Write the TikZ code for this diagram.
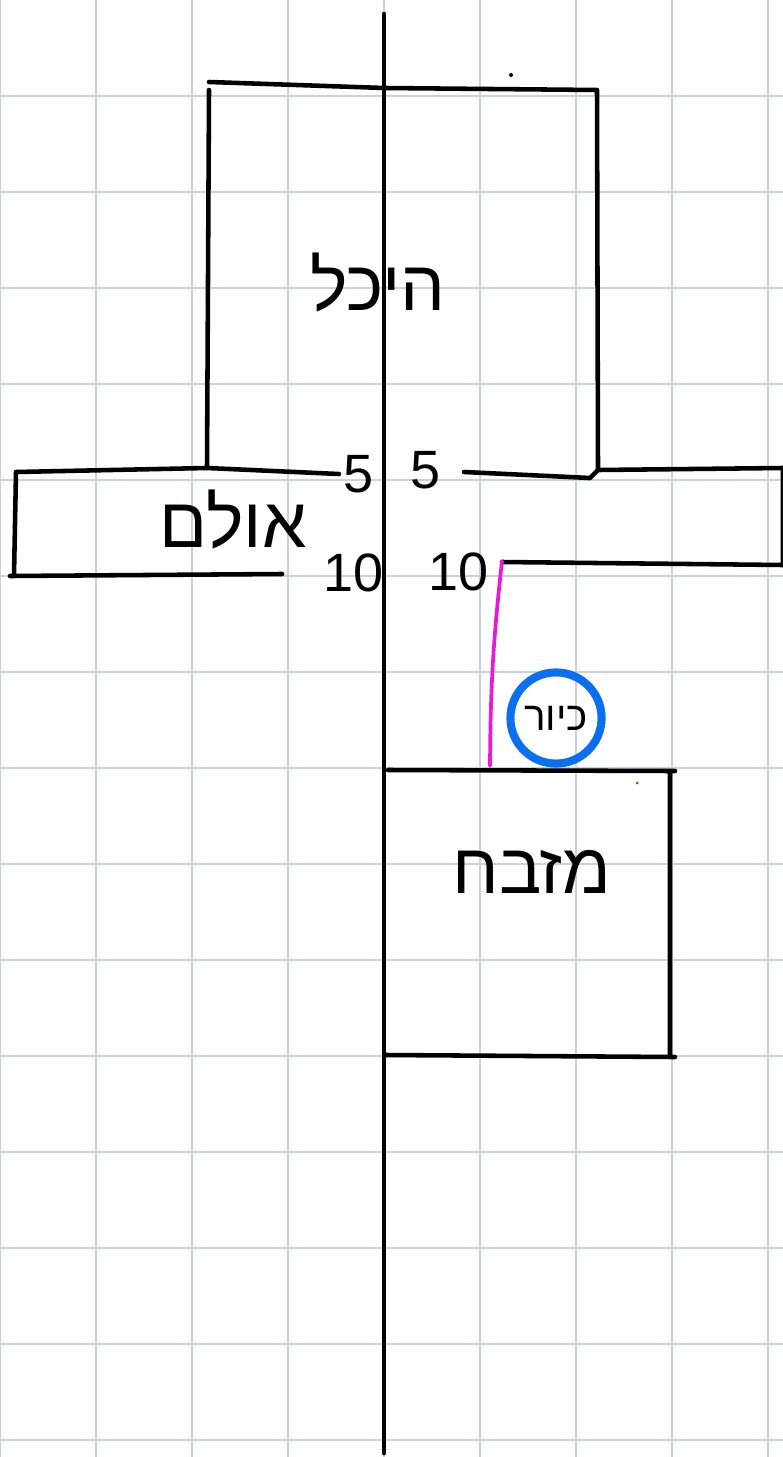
\documentclass[tikz,border=0pt]{standalone}
\usepackage{fontspec}
\setmainfont{Liberation Sans}
\newfontfamily\hebfont[Script=Hebrew]{Liberation Sans}
\TeXXeTstate=1
\definecolor{gridblue}{RGB}{196,210,228}
\definecolor{pinkline}{RGB}{236,24,212}
\definecolor{kiyorblue}{RGB}{10,112,240}

\begin{document}
\begin{tikzpicture}[x=0.0104167cm, y=-0.0104167cm, line cap=round, line join=round,
		wall/.style={black, line width=1.35pt},
		num/.style={inner sep=1pt, font=\fontsize{16}{18}\selectfont},
		room/.style={inner sep=1pt, font=\hebfont\fontsize{21}{24}\selectfont},
		kiyor/.style={draw=kiyorblue, line width=2.4pt, circle, minimum size=0.95cm, inner sep=0pt, font=\hebfont\fontsize{12}{13}\selectfont}]
	\useasboundingbox (0,0) rectangle (783,1457);
	% grid paper
	\foreach \gx in {0,96,...,768}
		\draw[gridblue, line width=0.6pt] (\gx,0) -- (\gx,1457);
	\foreach \gy in {96,192,...,1440}
		\draw[gridblue, line width=0.6pt] (0,\gy) -- (783,\gy);

	% axis
	\coordinate (axisTop) at (384,14);
	\coordinate (axisBot) at (384,1453);
	\draw[wall] (axisTop) -- (axisBot);

	% heichal
	\coordinate (hTL) at (209,82);
	\coordinate (hTR) at (597,90);
	\coordinate (hBL) at (207,468);
	\coordinate (hBR) at (598,470);
	\draw[wall] (hBL) -- (209,90) (hTL) -- (384,88) -- (hTR) -- (hBR);
	\node[room] (heichal) at (378,282) {\beginR היכל\endR};

	% ulam
	\coordinate (uTL) at (16,472);
	\coordinate (uBL) at (14,576);
	\coordinate (uTR) at (783,468);
	\coordinate (uBR) at (783,565);
	\node[num] (fiveL) at (358,474) {5};
	\node[num] (fiveR) at (425,470) {5};
	\node[num] (tenL) at (354,573) {10};
	\node[num] (tenR) at (459,572) {10};
	\draw[wall] (uBL) -- (uTL) -- (hBL) -- (fiveL.west);
	\draw[wall] (fiveR.east) ++(20,2) -- (590,478) -- (hBR) -- (uTR) -- (uBR) -- (502,562);
	\draw[wall] (10,576) -- (282,574);
	\node[room] (ulam) at (233,519) {\beginR אולם\endR};

	% kiyor
	\coordinate (pinkTop) at (502,561);
	\coordinate (pinkBot) at (490,766);
	\draw[pinkline, line width=1.1pt] (pinkTop) to[bend right=3] (pinkBot);
	\node[kiyor] (laver) at (556,718) {\beginR כיור\endR};

	% mizbeach
	\coordinate (mTL) at (388,770);
	\coordinate (mTR) at (670,771);
	\coordinate (mBR) at (670,1056);
	\coordinate (mBL) at (386,1055);
	\draw[wall] (mTL) -- (675,771) (mTR) -- (mBR) (mBL) -- (675,1057);
	\node[room] (mizbeach) at (532,872) {\beginR מזבח\endR};

	% stray dots
	\fill (511,75) circle (2);
	\fill[green!60!black] (637,783) circle (1.5);
\end{tikzpicture}
\end{document}
